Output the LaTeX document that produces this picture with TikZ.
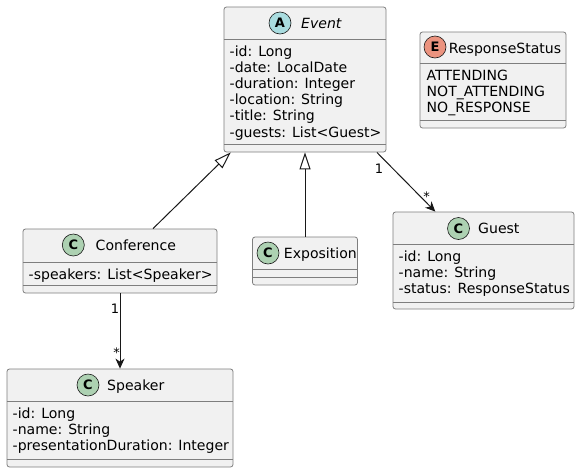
\documentclass[tikz,border=0pt]{standalone}
\usepackage{fontspec}
\setmainfont{DejaVu Sans}
\usetikzlibrary{arrows.meta}
\definecolor{boxfill}{HTML}{F1F1F1}
\definecolor{ink}{HTML}{181818}
\definecolor{frame}{HTML}{7E7E7E}
\definecolor{cC}{HTML}{ADD1B2}
\definecolor{cA}{HTML}{A9DCDF}
\definecolor{cE}{HTML}{EB937F}
\begin{document}
\begin{tikzpicture}[x=1pt,y=-1pt,
 classbox/.style={rectangle, draw=frame, line width=0.8pt, fill=boxfill, rounded corners=2.5pt, inner sep=0pt},
 sepline/.style={draw=frame, line width=0.8pt},
 badge/.style={circle, draw=ink, line width=0.6pt, minimum size=22pt, inner sep=0pt, font=\fontsize{13}{13}\selectfont\bfseries},
 cname/.style={anchor=base west, inner sep=0pt, font=\fontsize{14.05}{16}\selectfont},
 attr/.style={anchor=base west, inner sep=0pt, font=\fontsize{14.05}{16}\selectfont},
 mult/.style={anchor=base, inner sep=0pt, font=\fontsize{13}{13}\selectfont},
 edgeline/.style={draw=ink, line width=1pt},
 inh/.style={edgeline, -{Triangle[open, length=17pt, width=11pt]}},
 assoc/.style={edgeline, -{Stealth[length=10pt, width=9pt, inset=3pt]}}
]
\useasboundingbox (0,0) rectangle (580,472);

% ---- Event ----
\node[classbox, minimum width=162pt, minimum height=145pt] (event) at (305,79.5) {};
\draw[sepline] (event.west |- 0,39) -- (event.east |- 0,39);
\draw[sepline] (event.west |- 0,144) -- (event.east |- 0,144);
\node[badge, fill=cA] (eventB) at (280,23) {A};
\node[cname, font=\fontsize{14.05}{16}\selectfont\itshape] (eventN) at (301,28.3) {Event};
\foreach \t [count=\i] in {-id: Long,-date: LocalDate,-duration: Integer,-location: String,-title: String,-guests: List<Guest>}
  \node[attr] (eventA\i) at (229.5,{56+16.2*(\i-1)}) {\t};

% ---- ResponseStatus ----
\node[classbox, minimum width=146pt, minimum height=96pt] (status) at (493,80) {};
\draw[sepline] (status.west |- 0,63) -- (status.east |- 0,63);
\draw[sepline] (status.west |- 0,120) -- (status.east |- 0,120);
\node[badge, fill=cE] (statusB) at (435,47) {E};
\node[cname] (statusN) at (448.7,53.3) {ResponseStatus};
\node[attr] (statusA1) at (426.5,80) {ATTENDING};
\node[attr] (statusA2) at (426.5,96.2) {NOT\_ATTENDING};
\node[attr] (statusA3) at (426.5,112.4) {NO\_RESPONSE};

% ---- Conference ----
\node[classbox, minimum width=194pt, minimum height=64pt] (conf) at (120,261) {};
\draw[sepline] (conf.west |- 0,262) -- (conf.east |- 0,262);
\draw[sepline] (conf.west |- 0,285) -- (conf.east |- 0,285);
\node[badge, fill=cC] (confB) at (73.3,245) {C};
\node[cname] (confN) at (95.5,250.3) {Conference};
\node[attr] (confA1) at (28.5,279) {-speakers: List<Speaker>};

% ---- Exposition ----
\node[classbox, minimum width=105pt, minimum height=48pt] (expo) at (305,261) {};
\draw[sepline] (expo.west |- 0,269) -- (expo.east |- 0,269);
\draw[sepline] (expo.west |- 0,277) -- (expo.east |- 0,277);
\node[badge, fill=cC] (expoB) at (268,253) {C};
\node[cname] (expoN) at (283.7,258.3) {Exposition};

% ---- Guest ----
\node[classbox, minimum width=181pt, minimum height=97pt] (guest) at (483.5,260.5) {};
\draw[sepline] (guest.west |- 0,244) -- (guest.east |- 0,244);
\draw[sepline] (guest.west |- 0,302) -- (guest.east |- 0,302);
\node[badge, fill=cC] (guestB) at (458.5,228.5) {C};
\node[cname] (guestN) at (478,233.3) {Guest};
\foreach \t [count=\i] in {-id: Long,-name: String,-status: ResponseStatus}
  \node[attr] (guestA\i) at (398.5,{261.5+16.2*(\i-1)}) {\t};

% ---- Speaker ----
\node[classbox, minimum width=226pt, minimum height=98pt] (speaker) at (120,418) {};
\draw[sepline] (speaker.west |- 0,401.5) -- (speaker.east |- 0,401.5);
\draw[sepline] (speaker.west |- 0,459) -- (speaker.east |- 0,459);
\node[badge, fill=cC] (speakerB) at (88,385) {C};
\node[cname] (speakerN) at (107,390.3) {Speaker};
\foreach \t [count=\i] in {-id: Long,-name: String,-presentationDuration: Integer}
  \node[attr] (speakerA\i) at (12.5,{418.5+16.2*(\i-1)}) {\t};

% ---- connectors ----
\draw[inh] (conf) -- (event);
\draw[inh] (expo) -- (event);
\draw[assoc] (event) -- (guest);
\draw[assoc] (conf) -- (speaker);

% ---- multiplicities ----
\node[mult] (m1) at (379,173.3) {1};
\node[mult] (m2) at (426.7,201.5) {*};
\node[mult] (m3) at (115,313.3) {1};
\node[mult] (m4) at (116.7,357.5) {*};
\end{tikzpicture}
\end{document}
